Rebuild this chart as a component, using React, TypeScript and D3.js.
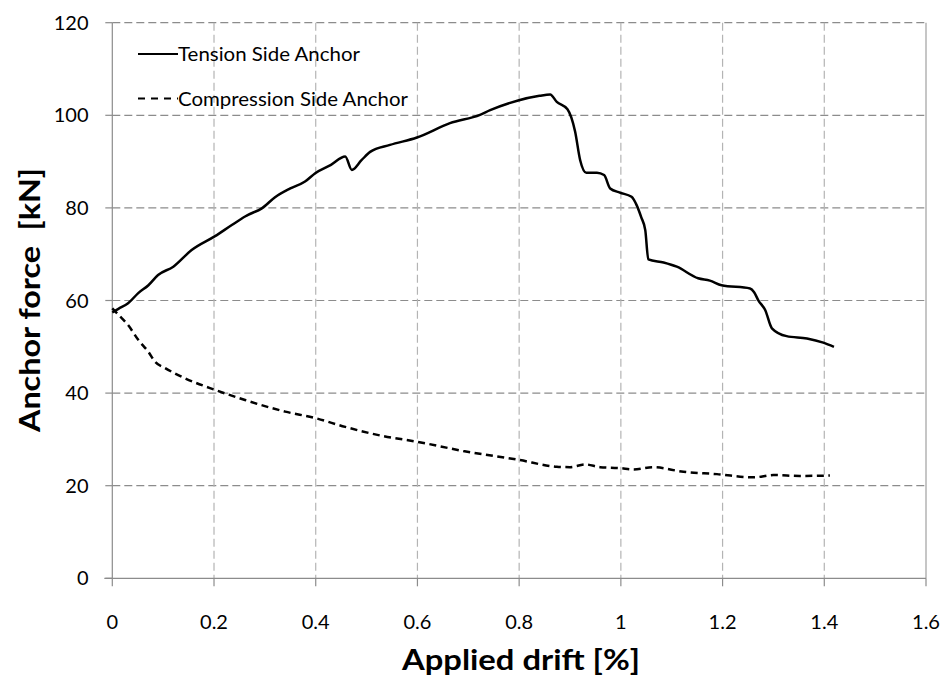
import React from "react";
import * as d3 from "d3";

// Tension side anchor: applied drift [%] vs anchor force [kN]
const tensionDrift = [
  0, 0.012, 0.031, 0.051, 0.071, 0.09, 0.12, 0.156, 0.202, 0.235, 0.262, 0.267, 0.294, 0.32,
  0.35, 0.379, 0.399, 0.43, 0.458, 0.471, 0.49, 0.507, 0.546, 0.599, 0.664, 0.723, 0.743,
  0.798, 0.84, 0.861, 0.874, 0.895, 0.91, 0.92, 0.932, 0.953, 0.967, 0.979, 0.998, 1.021,
  1.031, 1.04, 1.048, 1.054, 1.084, 1.11, 1.152, 1.175, 1.198, 1.254, 1.262, 1.27, 1.284,
  1.297, 1.326, 1.366, 1.398, 1.419,
];
const tensionForce = [
  57.4, 58.2, 59.4, 61.6, 63.3, 65.5, 67.3, 70.9, 73.9, 76.3, 78.2, 78.5, 79.9, 82.3,
  84.2, 85.7, 87.5, 89.3, 91.1, 88.2, 90.3, 92.1, 93.6, 95.2, 98.3, 100.1, 101.1,
  103.2, 104.2, 104.5, 102.9, 101.3, 96.5, 90.3, 87.6, 87.6, 87.1, 84.2, 83.3, 82.4,
  80.6, 78.0, 75.2, 68.9, 68.2, 67.3, 64.8, 64.3, 63.3, 62.6, 61.8, 60.1, 57.9,
  54.0, 52.3, 51.8, 50.9, 50.0,
];

// Compression side anchor
const compressionDrift = [
  0, 0.012, 0.031, 0.051, 0.071, 0.084, 0.104, 0.143, 0.202, 0.261, 0.34, 0.399, 0.458,
  0.533, 0.599, 0.69, 0.798, 0.874, 0.9, 0.93, 0.959, 0.998, 1.025, 1.064, 1.123, 1.189,
  1.261, 1.3, 1.352, 1.411,
];
const compressionForce = [
  58.3, 56.9, 54.7, 51.5, 48.9, 46.8, 45.4, 43.2, 40.7, 38.5, 36.0, 34.6, 32.7,
  30.7, 29.5, 27.5, 25.6, 24.1, 24.0, 24.6, 24.0, 23.8, 23.5, 24.0, 23.0, 22.5,
  21.8, 22.3, 22.1, 22.2,
];

const xTicks = [0, 0.2, 0.4, 0.6, 0.8, 1, 1.2, 1.4, 1.6];
const yTicks = [0, 20, 40, 60, 80, 100, 120];
const seriesNames = ["Tension Side Anchor", "Compression Side Anchor"];

const W = 948;
const H = 685;
const left = 112.3;
const right = 926;
const top = 22.7;
const bottom = 578.3;

const FONT = "Lato, 'Open Sans', sans-serif";

export default function App() {
  const x = d3.scaleLinear().domain([0, 1.6]).range([left, right]);
  const y = d3.scaleLinear().domain([0, 120]).range([bottom, top]);

  const line = d3
    .line<[number, number]>()
    .x((d) => x(d[0]))
    .y((d) => y(d[1]))
    .curve(d3.curveMonotoneX);

  const tension = tensionDrift.map((v, i) => [v, tensionForce[i]] as [number, number]);
  const compression = compressionDrift.map((v, i) => [v, compressionForce[i]] as [number, number]);

  return (
    <svg
      width={W}
      height={H}
      style={{ position: "absolute", left: 0, top: 0, background: "#fff" }}
      fontFamily={FONT}
    >
      <rect x={0} y={0} width={W} height={H} fill="#fff" />

      {/* horizontal gridlines */}
      {yTicks.filter((t) => t > 0).map((t) => (
        <line
          key={"hy" + t}
          x1={left}
          x2={right}
          y1={y(t)}
          y2={y(t)}
          stroke="#8c8c8c"
          strokeWidth={1.2}
          strokeDasharray="8,4"
        />
      ))}
      {/* vertical gridlines */}
      {xTicks.filter((t) => t > 0 && t < 1.6).map((t) => (
        <line
          key={"vx" + t}
          x1={x(t)}
          x2={x(t)}
          y1={top}
          y2={bottom}
          stroke="#b4b4b4"
          strokeWidth={1.2}
          strokeDasharray="8,4"
        />
      ))}
      <line x1={x(1.6)} x2={x(1.6)} y1={top} y2={bottom} stroke="#a0a0a0" strokeWidth={1.2} />

      {/* axes */}
      <line x1={left} x2={left} y1={top} y2={bottom} stroke="#8c8c8c" strokeWidth={1.2} />
      <line x1={left - 8} x2={right} y1={bottom} y2={bottom} stroke="#8c8c8c" strokeWidth={1.2} />
      {yTicks.map((t) => (
        <line key={"ty" + t} x1={left - 7} x2={left} y1={y(t)} y2={y(t)} stroke="#8c8c8c" strokeWidth={1.2} />
      ))}
      {xTicks.map((t) => (
        <line key={"tx" + t} x1={x(t)} x2={x(t)} y1={bottom} y2={bottom + 8} stroke="#8c8c8c" strokeWidth={1.2} />
      ))}

      {/* tick labels */}
      {yTicks.map((t) => (
        <text key={"ly" + t} x={88.5} y={y(t) + 7} textAnchor="end" fontSize={20} fill="#000">
          {t}
        </text>
      ))}
      {xTicks.map((t) => (
        <text key={"lx" + t} x={x(t)} y={629} textAnchor="middle" fontSize={20} fill="#000">
          {t}
        </text>
      ))}

      {/* axis titles */}
      <text
        x={521}
        y={670}
        textAnchor="middle"
        fontSize={29}
        fontWeight="bold"
        fill="#000"
        textLength={238}
        lengthAdjust="spacingAndGlyphs"
      >
        Applied drift [%]
      </text>
      <text
        transform={`translate(40,${300}) rotate(-90)`}
        textAnchor="middle"
        fontSize={29}
        fontWeight="bold"
        fill="#000"
        xmlSpace="preserve"
        textLength={264}
        lengthAdjust="spacingAndGlyphs"
      >
        Anchor force  [kN]
      </text>

      {/* series */}
      <path d={line(tension) ?? ""} fill="none" stroke="#000" strokeWidth={2.5} strokeLinejoin="round" />
      <path
        d={line(compression) ?? ""}
        fill="none"
        stroke="#000"
        strokeWidth={2.5}
        strokeDasharray="7,4.5"
      />

      {/* legend */}
      <line x1={138} x2={178} y1={54} y2={54} stroke="#000" strokeWidth={2} />
      <text x={178} y={61} fontSize={20} fill="#000" textLength={182} lengthAdjust="spacingAndGlyphs">
        {seriesNames[0]}
      </text>
      <line x1={138} x2={178} y1={98.5} y2={98.5} stroke="#000" strokeWidth={2} strokeDasharray="7,6" />
      <text x={178} y={105.5} fontSize={20} fill="#000" textLength={230} lengthAdjust="spacingAndGlyphs">
        {seriesNames[1]}
      </text>
    </svg>
  );
}
